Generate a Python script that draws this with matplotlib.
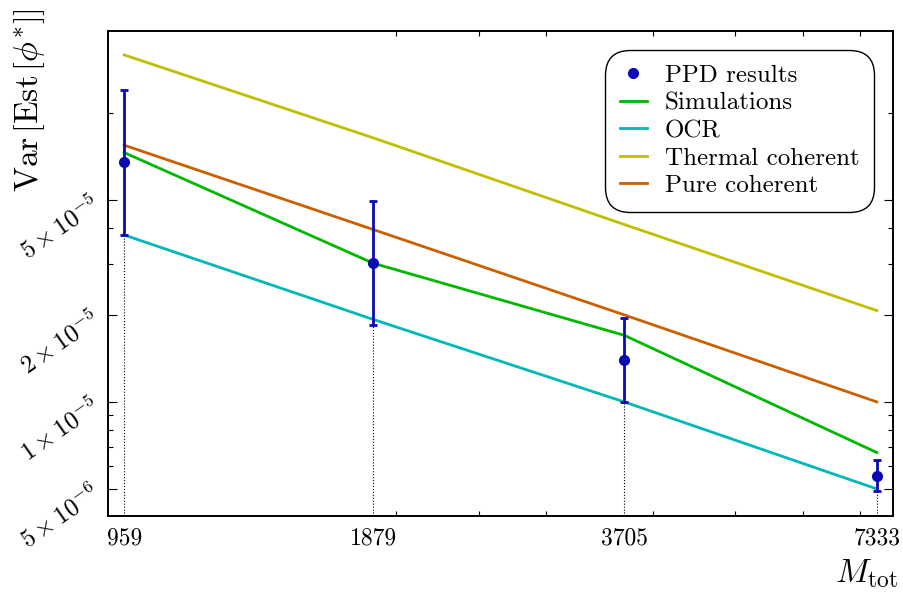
import matplotlib
matplotlib.use("Agg")
import matplotlib.pyplot as plt
from matplotlib import rcParams
import numpy as np

rcParams["font.family"] = ["cmr10", "DejaVu Serif"]
rcParams["mathtext.fontset"] = "cm"
rcParams["axes.unicode_minus"] = False
rcParams["axes.formatter.use_mathtext"] = True

# ── 데이터
M_tot = [959, 1879, 3705, 7333]
ppd = [6.76e-5, 3.02e-5, 1.40e-5, 5.55e-6]
ppd_hi = [1.20e-4, 4.96e-5, 1.95e-5, 6.30e-6]
ppd_lo = [3.78e-5, 1.84e-5, 1.00e-5, 4.91e-6]
sim = [7.29e-5, 3.02e-5, 1.70e-5, 6.68e-6]
ocr = [3.78e-5, 1.93e-5, 1.00e-5, 5.00e-6]
thermal = [1.587e-4, 8.20e-5, 4.11e-5, 2.07e-5]
pure = [7.73e-5, 3.95e-5, 2.00e-5, 1.00e-5]

ytick_vals = [5e-6, 1e-5, 2e-5, 5e-5]
ytick_labels = [r"$5\times10^{-6}$", r"$1\times10^{-5}$", r"$2\times10^{-5}$", r"$5\times10^{-5}$"]
yminor_vals = [6e-6, 7e-6, 8e-6, 9e-6, 3e-5, 4e-5, 1e-4]
xminor_vals = [2000, 2500, 3000, 4000, 5000, 6000, 7000]

C_PPD = "#0a0ab4"
C_SIM = "#00b800"
C_OCR = "#00b8b8"
C_TH = "#bfbf00"
C_PC = "#cc5f00"

fig = plt.figure(figsize=(9.04, 5.95), dpi=100)
ax = fig.add_axes([0.1195, 0.1328, 0.8683, 0.8151])

ax.set_xscale("log")
ax.set_yscale("log")
ylo, yhi = 4.03e-6, 1.92e-4
ax.set_xlim(918, 7660)
ax.set_ylim(ylo, yhi)

# 점선 (오차막대 아래 → x축)
ax.vlines(M_tot, ylo, ppd_lo, colors="black", linestyles=":", lw=0.8, zorder=1)

ax.plot(M_tot, sim, color=C_SIM, lw=2, label="Simulations", zorder=2)
ax.plot(M_tot, ocr, color=C_OCR, lw=2, label="OCR", zorder=2)
ax.plot(M_tot, thermal, color=C_TH, lw=2, label="Thermal coherent", zorder=2)
ax.plot(M_tot, pure, color=C_PC, lw=2, label="Pure coherent", zorder=2)

ppd_a = np.array(ppd)
yerr = [ppd_a - np.array(ppd_lo), np.array(ppd_hi) - ppd_a]
ax.errorbar(M_tot, ppd, yerr=yerr, fmt="none", ecolor=C_PPD, lw=2,
            capsize=3, capthick=2, zorder=3)
ax.plot(M_tot, ppd, "o", color=C_PPD, ms=7, label="PPD results", zorder=4)

# 축 눈금
ax.set_xticks(M_tot)
ax.set_xticklabels([str(m) for m in M_tot])
ax.set_xticks(xminor_vals, minor=True)
ax.set_xticklabels([], minor=True)
ax.set_yticks(ytick_vals)
ax.set_yticklabels(ytick_labels, rotation=35, rotation_mode="anchor",
                   ha="right", va="center_baseline")
ax.set_yticks(yminor_vals, minor=True)
ax.set_yticklabels([], minor=True)

ax.tick_params(which="both", direction="in", top=True, right=True, width=0.8)
ax.tick_params(axis="x", which="major", length=0, labelsize=17, pad=8)
ax.tick_params(axis="y", which="major", length=6.5, labelsize=18, pad=9)
ax.tick_params(which="minor", length=3.5)
for s in ax.spines.values():
    s.set_linewidth(1.4)

ax.set_xlabel(r"$M_{\mathrm{tot}}$", fontsize=24)
ax.xaxis.set_label_coords(0.966, -0.085)
ax.set_ylabel(r"$\mathrm{Var}\,\left[\mathrm{Est}\,\left[\phi^{*}\right]\right]$", fontsize=24)
ax.yaxis.set_label_coords(-0.078, 0.858)

handles, labels = ax.get_legend_handles_labels()
order = [labels.index(n) for n in ["PPD results", "Simulations", "OCR", "Thermal coherent", "Pure coherent"]]
leg = ax.legend([handles[i] for i in order], [labels[i] for i in order],
                loc="upper right", fontsize=18, numpoints=1, handlelength=1.1,
                handletextpad=0.7, labelspacing=0.2, borderpad=0.6,
                borderaxespad=0.75, fancybox=True, framealpha=1, edgecolor="black")
leg.get_frame().set_boxstyle("round,pad=0.,rounding_size=1.0")
leg.get_frame().set_linewidth(1.0)

fig.savefig("out.png", dpi=100, facecolor="white")
